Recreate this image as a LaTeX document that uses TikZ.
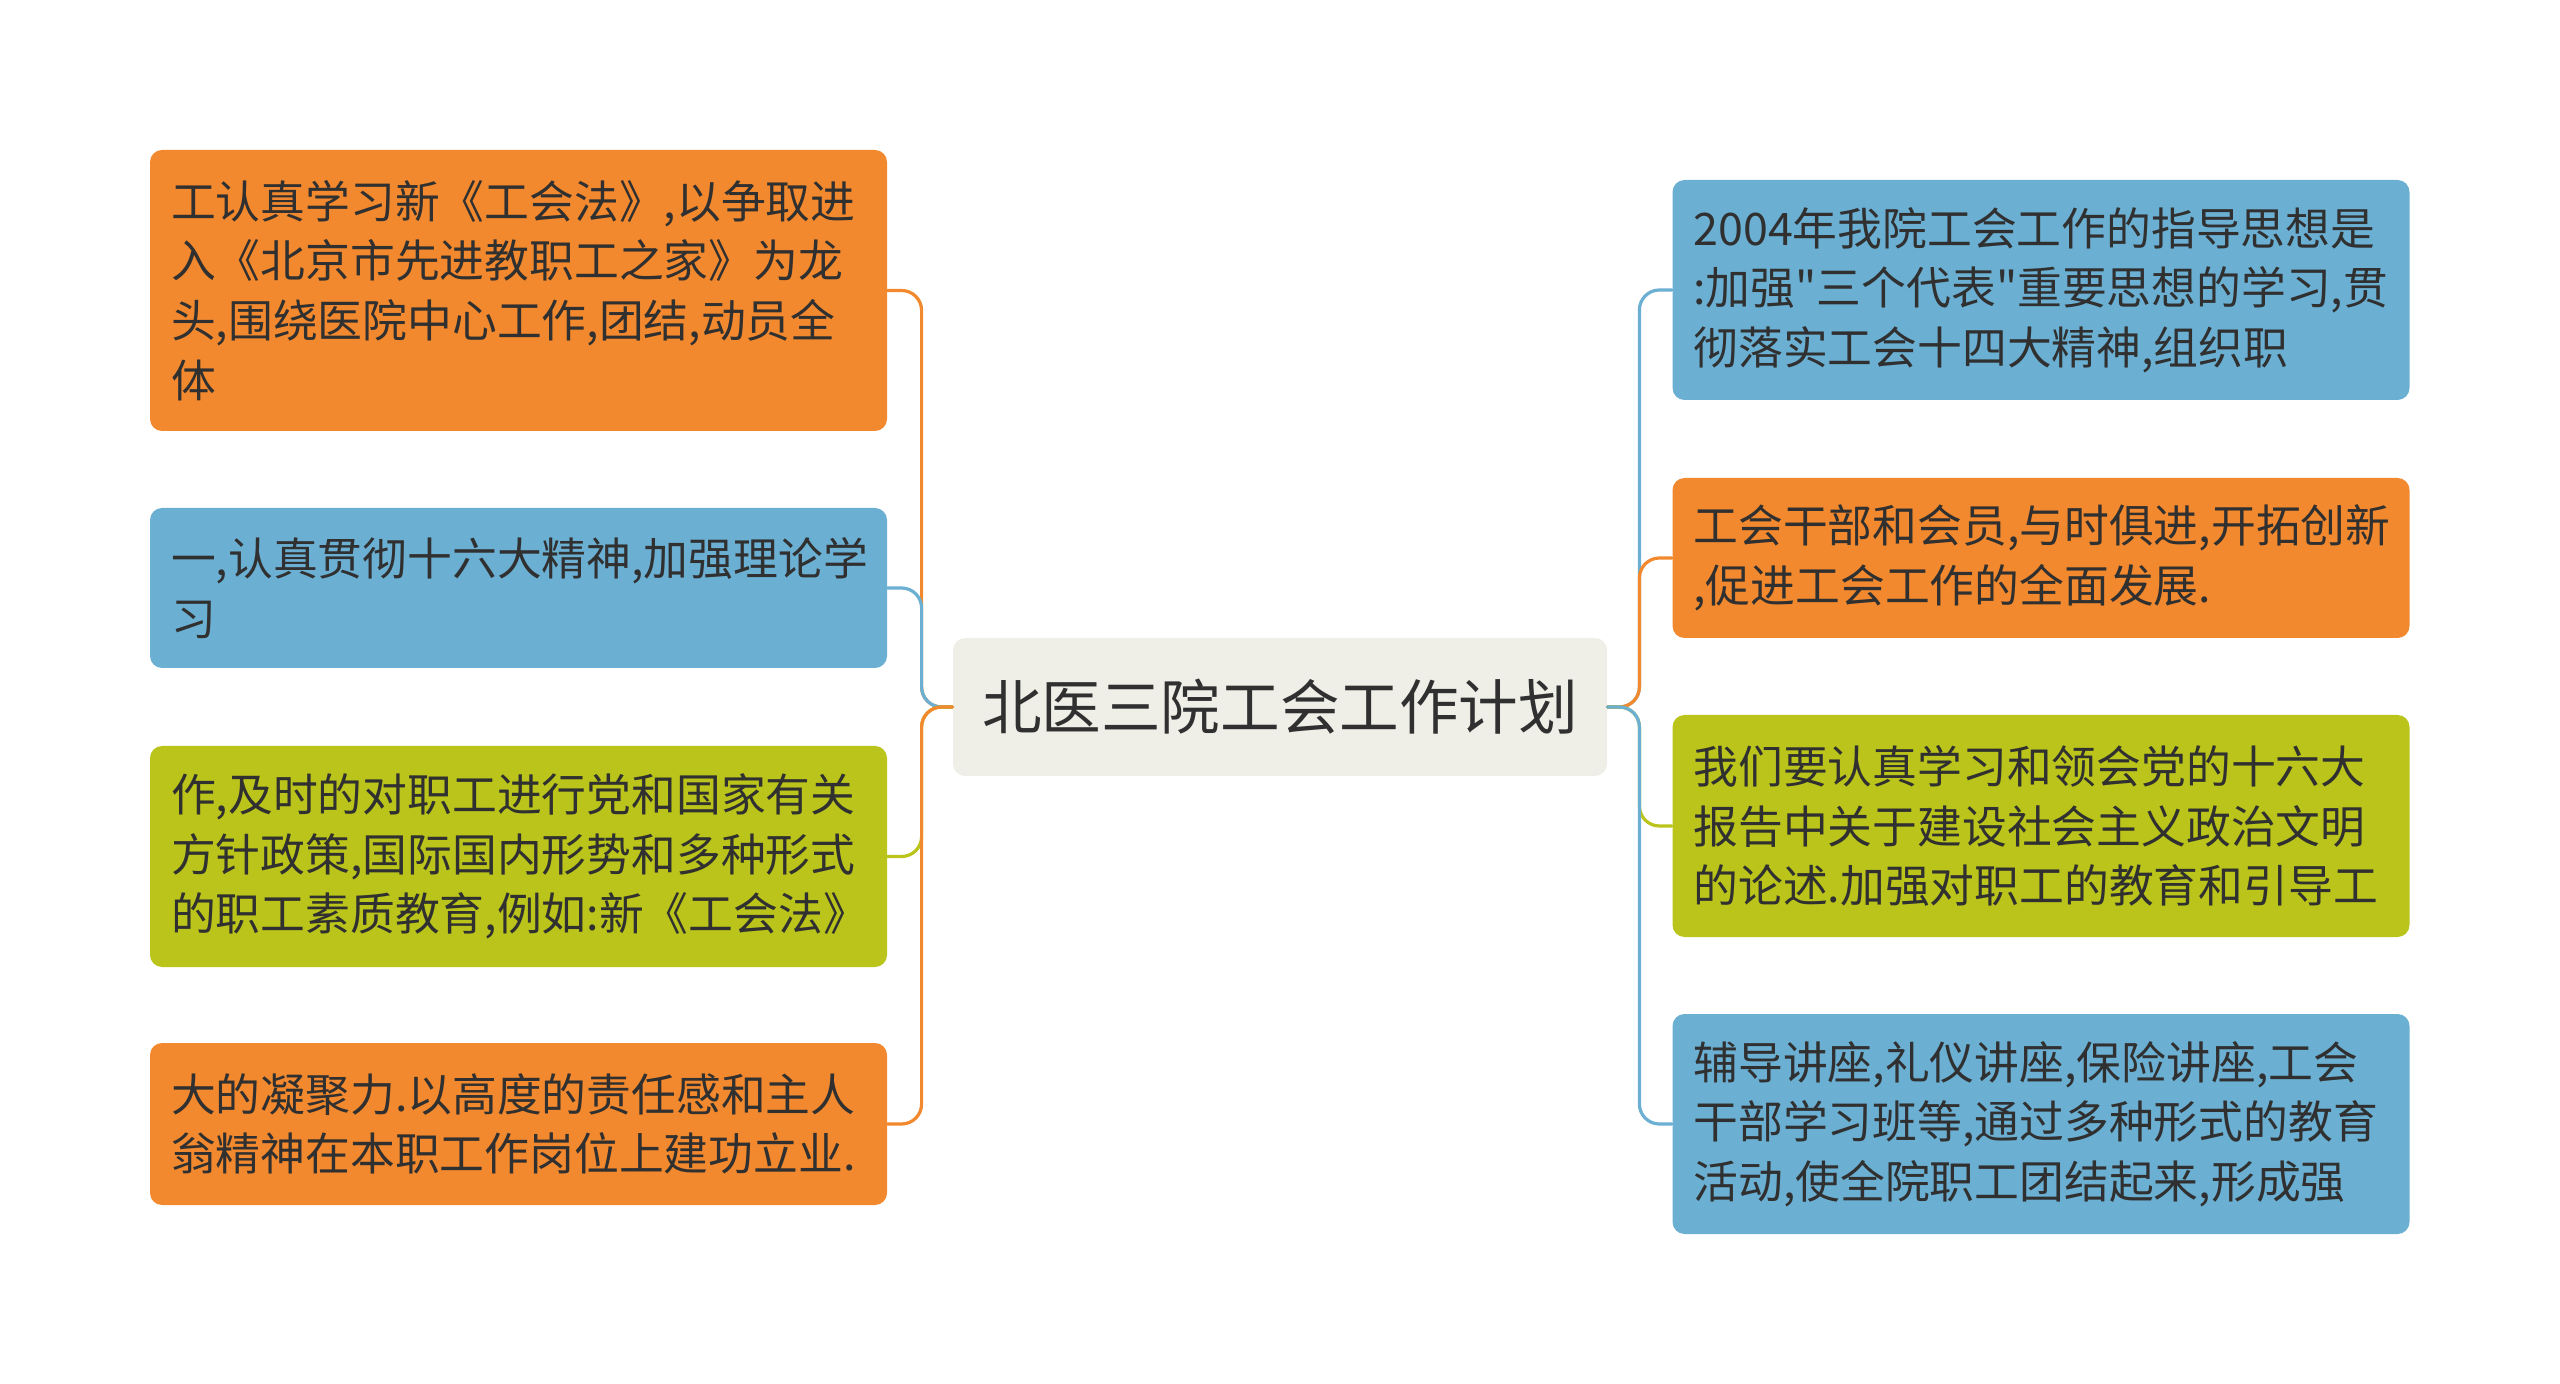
\documentclass[tikz,border=0pt]{standalone}
\usepackage{fontspec}
\setmainfont{Noto Sans CJK SC}[Ligatures=TeXOff]
\definecolor{cam}{RGB}{242,137,46}
\definecolor{lam}{RGB}{107,175,210}
\definecolor{la}{RGB}{186,196,26}
\definecolor{nen}{RGB}{239,239,232}
\definecolor{chu}{RGB}{48,48,48}
\begin{document}
\begin{tikzpicture}[x=0.5pt,y=-0.5pt,line cap=round,line join=round,
    hop/.style={rounded corners=6pt,inner xsep=10.5pt,inner ysep=0pt,text width=347.5pt,align=left,
      minimum width=368.5pt,text=chu,font=\fontsize{22.4}{29.8}\selectfont},
    noi/.style={line width=1.6pt,rounded corners=10pt}]
    \useasboundingbox (0,0) rectangle (2560,1384);
    % nut giua
    \node[fill=nen,rounded corners=6pt,minimum width=327pt,minimum height=69pt,text=chu,
      font=\fontsize{29.8}{35}\selectfont] (c) at (1280,707) {北医三院工会工作计划};
    % ben trai
    \node[hop,fill=cam,minimum height=140.5pt] (l1) at (518.5,290.5) {工认真学习新《工会法》,以争取进\\入《北京市先进教职工之家》为龙\\头,围绕医院中心工作,团结,动员全\\体};
    \node[hop,fill=lam,minimum height=80pt] (l2) at (518.5,588) {一,认真贯彻十六大精神,加强理论学\\习};
    \node[hop,fill=la,minimum height=110.5pt] (l3) at (518.5,856.5) {作,及时的对职工进行党和国家有关\\方针政策,国际国内形势和多种形式\\的职工素质教育,例如:新《工会法》};
    \node[hop,fill=cam,minimum height=81pt] (l4) at (518.5,1124) {大的凝聚力.以高度的责任感和主人\\翁精神在本职工作岗位上建功立业.};
    % ben phai
    \node[hop,fill=lam,minimum height=110pt] (r1) at (2041,290) {2004年我院工会工作的指导思想是\\:加强"三个代表"重要思想的学习,贯\\彻落实工会十四大精神,组织职};
    \node[hop,fill=cam,minimum height=80pt] (r2) at (2041,558) {工会干部和会员,与时俱进,开拓创新\\,促进工会工作的全面发展.};
    \node[hop,fill=la,minimum height=111pt] (r3) at (2041,826) {我们要认真学习和领会党的十六大\\报告中关于建设社会主义政治文明\\的论述.加强对职工的教育和引导工};
    \node[hop,fill=lam,minimum height=110pt] (r4) at (2041,1124) {辅导讲座,礼仪讲座,保险讲座,工会\\干部学习班等,通过多种形式的教育\\活动,使全院职工团结起来,形成强};
    % duong noi
    \draw[noi,cam] (c.west) -- ++(-31,0) |- (l1.east);
    \draw[noi,lam] (c.west) -- ++(-31,0) |- (l2.east);
    \draw[noi,la] (c.west) -- ++(-31,0) |- (l3.east);
    \draw[noi,cam] (c.west) -- ++(-31,0) |- (l4.east);
    \draw[noi,lam] (c.east) -- ++(32,0) |- (r1.west);
    \draw[noi,cam] (c.east) -- ++(32,0) |- (r2.west);
    \draw[noi,la] (c.east) -- ++(32,0) |- (r3.west);
    \draw[noi,lam] (c.east) -- ++(32,0) |- (r4.west);
\end{tikzpicture}
\end{document}
